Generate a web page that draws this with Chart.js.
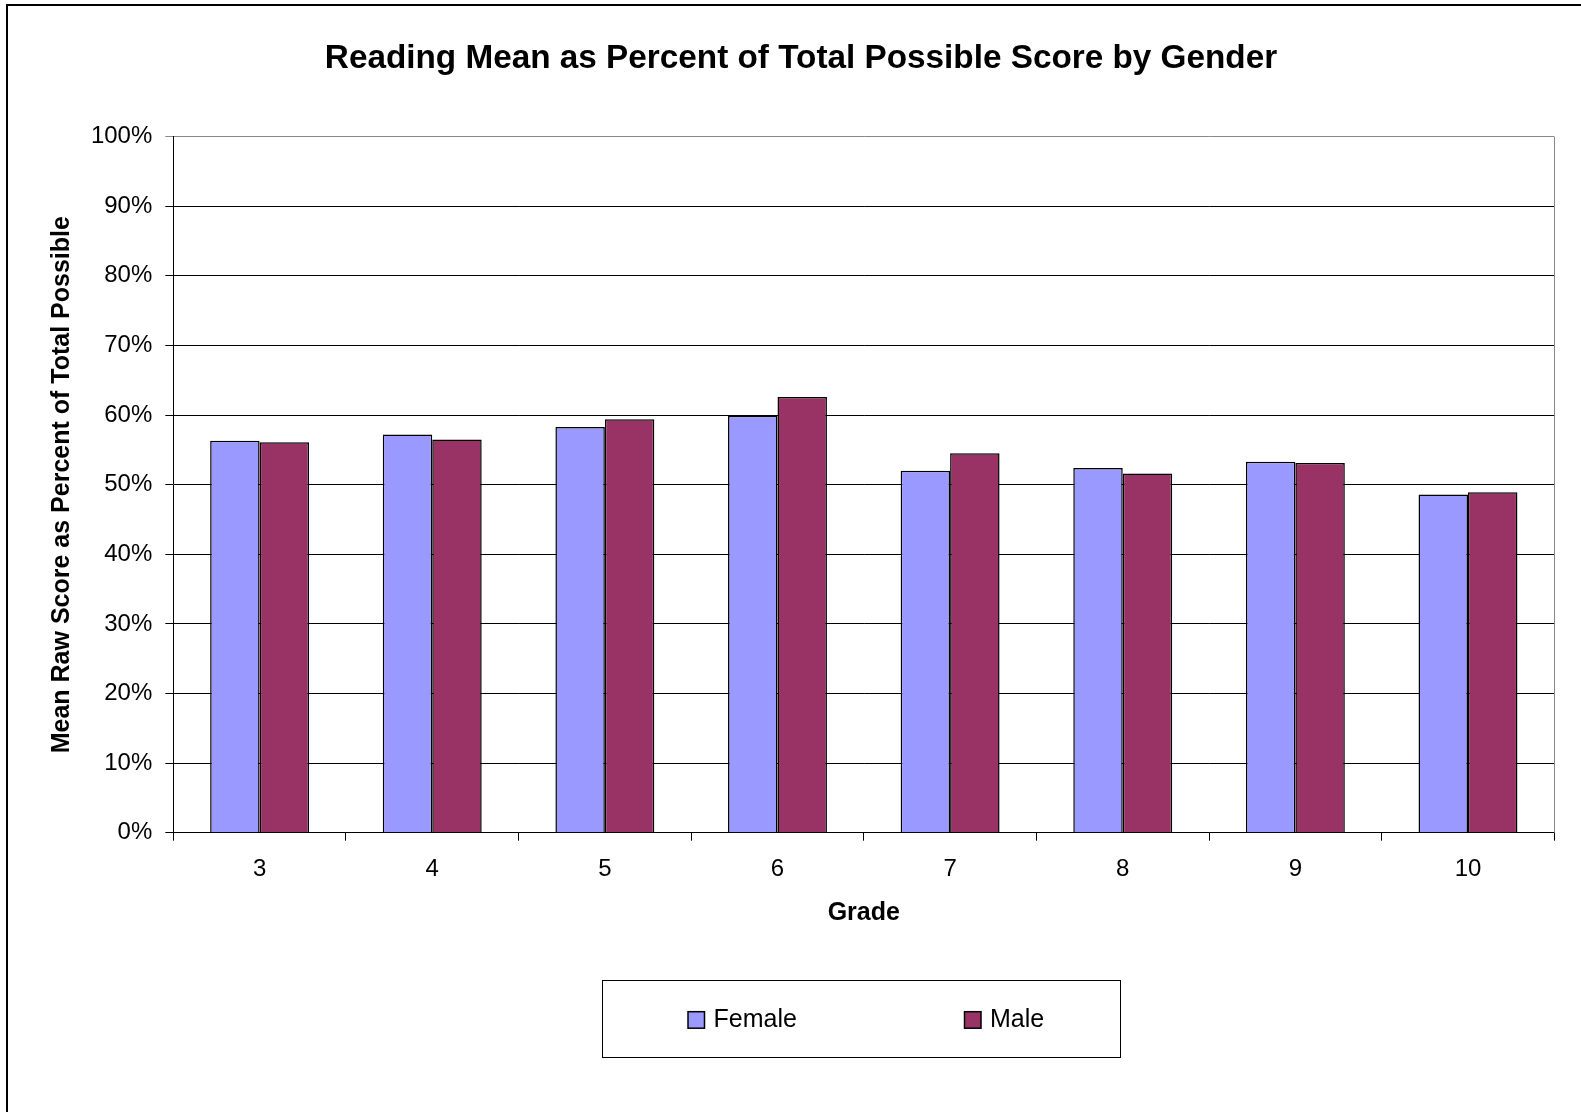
<!DOCTYPE html>
<html>
<head>
<meta charset="utf-8">
<title>Reading Mean as Percent of Total Possible Score by Gender</title>
<script src="https://cdn.jsdelivr.net/npm/chart.js@4.4.1/dist/chart.umd.min.js"></script>
<style>
  html, body { margin: 0; padding: 0; background: #fff; overflow: hidden; }
  #wrap { position: relative; width: 1581px; height: 1112px; }
</style>
</head>
<body>
<div id="wrap"><canvas id="reading-gender-chart"></canvas></div>
<script>
// Data (percent of total possible)
const grades = ["3", "4", "5", "6", "7", "8", "9", "10"];
const femaleMean = [56.3, 57.2, 58.3, 59.9, 52.0, 52.4, 53.3, 48.6];
const maleMean = [56.1, 56.5, 59.4, 62.6, 54.5, 51.6, 53.1, 48.9];
const seriesNames = ["Female", "Male"];
const seriesColors = ["#9999FF", "#993366"];

const FONT = '"Liberation Sans", Arial, sans-serif';
Chart.defaults.font.family = FONT;
Chart.defaults.color = "#000";

// white page, outer frame, plot right edge and the boxed legend
const frameAndLegend = {
  id: "frameAndLegend",
  beforeDraw(chart) {
    const ctx = chart.ctx;
    ctx.save();
    ctx.fillStyle = "#fff";
    ctx.fillRect(0, 0, chart.width, chart.height);
    ctx.strokeStyle = "#000";
    ctx.lineWidth = 2;
    ctx.beginPath();
    ctx.moveTo(7, chart.height + 5);
    ctx.lineTo(7, 5);
    ctx.lineTo(chart.width + 5, 5);
    ctx.stroke();
    ctx.restore();
  },
  afterDraw(chart) {
    const ctx = chart.ctx;
    const { top, bottom, right } = chart.chartArea;
    ctx.save();
    ctx.strokeStyle = "#888";
    ctx.lineWidth = 1;
    ctx.beginPath();
    ctx.moveTo(Math.round(right) + 0.5, top);
    ctx.lineTo(Math.round(right) + 0.5, bottom);
    ctx.stroke();

    // legend box
    ctx.strokeStyle = "#000";
    ctx.strokeRect(602.5, 980.5, 518, 77);
    const itemX = [688, 964.5];
    chart.data.datasets.forEach((ds, i) => {
      const x = itemX[i];
      const y = 1011.7;
      ctx.fillStyle = ds.backgroundColor;
      ctx.fillRect(x, y, 16.5, 16.5);
      ctx.lineWidth = 1.5;
      ctx.strokeStyle = "#000";
      ctx.strokeRect(x, y, 16.5, 16.5);
      ctx.fillStyle = "#000";
      ctx.font = "25px " + FONT;
      ctx.textBaseline = "middle";
      ctx.fillText(ds.label, x + 25.5, y + 8.5);
    });
    ctx.restore();
  },
};

new Chart(document.getElementById("reading-gender-chart"), {
  type: "bar",
  data: {
    labels: grades,
    datasets: [
      {
        label: seriesNames[0],
        data: femaleMean,
        backgroundColor: seriesColors[0],
        borderColor: "#000",
        borderWidth: 1.5,
      },
      {
        label: seriesNames[1],
        data: maleMean,
        backgroundColor: seriesColors[1],
        borderColor: "#000",
        borderWidth: 1.5,
      },
    ],
  },
  options: {
    responsive: true,
    maintainAspectRatio: false,
    animation: false,
    layout: { padding: { left: 47.7, right: 26.7, top: 0, bottom: 0 } },
    datasets: {
      bar: { categoryPercentage: 0.573, barPercentage: 1 },
    },
    plugins: {
      legend: { display: false },
      tooltip: { enabled: false },
      title: {
        display: true,
        text: "Reading Mean as Percent of Total Possible Score by Gender",
        font: { size: 33.3, weight: "bold" },
        padding: { top: 39, bottom: 57.7 },
        color: "#000",
      },
    },
    scales: {
      x: {
        afterFit: (scale) => {
          scale.height = 279.3;
        },
        grid: {
          display: true,
          drawOnChartArea: false,
          drawTicks: true,
          tickLength: 8,
          color: "#000",
          offset: true,
        },
        border: { color: "#000", width: 1 },
        ticks: { font: { size: 24 }, padding: 14, color: "#000" },
        title: {
          display: true,
          text: "Grade",
          font: { size: 25, weight: "bold" },
          padding: { top: 0, bottom: 184 },
          color: "#000",
        },
      },
      y: {
        min: 0,
        max: 100,
        afterFit: (scale) => {
          scale.width = 125.6;
        },
        grid: {
          color: (c) => (c.tick && c.tick.value === 100 ? "#888" : "#000"),
          tickLength: 8,
        },
        border: { color: "#000", width: 1 },
        ticks: {
          stepSize: 10,
          padding: 13,
          font: { size: 24 },
          color: "#000",
          callback: (v) => v + "%",
        },
        title: {
          display: true,
          text: "Mean Raw Score as Percent of Total Possible",
          font: { size: 25, weight: "bold", lineHeight: 1 },
          padding: { top: 1.5, bottom: 0 },
          color: "#000",
        },
      },
    },
  },
  plugins: [frameAndLegend],
});
</script>
</body>
</html>
